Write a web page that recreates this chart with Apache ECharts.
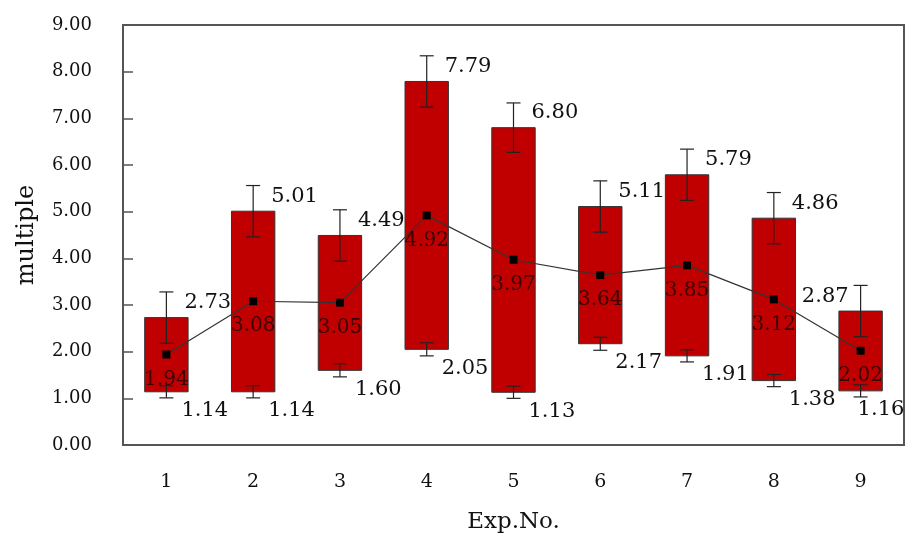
<!DOCTYPE html>
<html>
<head>
<meta charset="utf-8">
<script src="https://cdn.jsdelivr.net/npm/echarts@6/dist/echarts.min.js"></script>
<style>
  html, body { margin: 0; padding: 0; background: #fff; }
  #chart { width: 907px; height: 539px; }
</style>
</head>
<body>
<div id="chart"></div>
<script>
var chart = echarts.init(document.getElementById('chart'));

var expNo = ['1', '2', '3', '4', '5', '6', '7', '8', '9'];
var lowVals = [1.14, 1.14, 1.60, 2.05, 1.13, 2.17, 1.91, 1.38, 1.16];
var highVals = [2.73, 5.01, 4.49, 7.79, 6.80, 5.11, 5.79, 4.86, 2.87];
var meanVals = [1.94, 3.08, 3.05, 4.92, 3.97, 3.64, 3.85, 3.12, 2.02];
var errHigh = [0.55, 0.55, 0.55, 0.55, 0.53, 0.55, 0.55, 0.55, 0.55];
var errLow = [0.13, 0.13, 0.14, 0.14, 0.13, 0.14, 0.13, 0.13, 0.13];

var font = '"DejaVu Serif", "Liberation Serif", serif';

var boxData = expNo.map(function (c, i) {
    return [i, lowVals[i], highVals[i], errHigh[i], errLow[i]];
});

function whisker(x, y1, y2, cap) {
    var st = { stroke: '#222', lineWidth: 1.2 };
    return [
        { type: 'line', shape: { x1: x, y1: y1, x2: x, y2: y2 }, style: st },
        { type: 'line', shape: { x1: x - cap, y1: y1, x2: x + cap, y2: y1 }, style: st },
        { type: 'line', shape: { x1: x - cap, y1: y2, x2: x + cap, y2: y2 }, style: st }
    ];
}

function renderBox(params, api) {
    var i = api.value(0);
    var lo = api.value(1), hi = api.value(2);
    var eu = api.value(3), el = api.value(4);
    var pLo = api.coord([i, lo]);
    var pHi = api.coord([i, hi]);
    var w = api.size([1, 0])[0] * 0.5;
    var x = pLo[0];
    var cap = 7;
    var last = i === expNo.length - 1;
    var children = [{
        type: 'rect',
        shape: { x: x - w / 2, y: pHi[1], width: w, height: pLo[1] - pHi[1] },
        style: { fill: '#c00000', stroke: '#333', lineWidth: 1 }
    }];
    var t1 = api.coord([i, hi + eu])[1], t2 = api.coord([i, hi - eu])[1];
    var b1 = api.coord([i, lo + el])[1], b2 = api.coord([i, lo - el])[1];
    children = children.concat(whisker(x, t1, t2, cap), whisker(x, b1, b2, cap));
    // last box has its top label on the left, like the original
    children.push({
        type: 'text', x: last ? x - 12 : x + 18, y: pHi[1] - 15,
        style: { text: hi.toFixed(2), font: '21px ' + font, fill: '#111', align: last ? 'right' : 'left', verticalAlign: 'middle' }
    });
    children.push({
        type: 'text', x: last ? x - 3 : x + 15, y: pLo[1] + 19,
        style: { text: lo.toFixed(2), font: '21px ' + font, fill: '#111', align: 'left', verticalAlign: 'middle' }
    });
    return { type: 'group', children: children };
}

var option = {
    animation: false,
    grid: {
        left: 123, right: 3, top: 25, bottom: 94,
        show: true, borderColor: '#555', borderWidth: 2
    },
    xAxis: {
        type: 'category',
        data: expNo,
        name: 'Exp.No.',
        nameLocation: 'middle',
        nameGap: 66,
        nameTextStyle: { fontFamily: font, fontSize: 23, color: '#111' },
        axisLine: { onZero: false, lineStyle: { color: '#555', width: 1.5 } },
        axisTick: { show: false },
        axisLabel: { fontFamily: font, fontSize: 19, color: '#111', margin: 28 }
    },
    yAxis: {
        type: 'value',
        min: 0, max: 9, interval: 1,
        name: 'multiple',
        nameLocation: 'middle',
        nameGap: 84,
        nameTextStyle: { fontFamily: font, fontSize: 24, color: '#111' },
        axisLine: { show: true, onZero: false, lineStyle: { color: '#555', width: 1.5 } },
        axisTick: { show: true, inside: true, length: 10, lineStyle: { color: '#555', width: 1.5 } },
        splitLine: { show: false },
        axisLabel: {
            fontFamily: font, fontSize: 18, color: '#111', margin: 31,
            formatter: function (v) { return v.toFixed(2); }
        }
    },
    series: [
        {
            type: 'custom',
            renderItem: renderBox,
            encode: { x: 0, y: [1, 2] },
            data: boxData,
            z: 2
        },
        {
            type: 'line',
            data: meanVals,
            symbol: 'rect',
            symbolSize: 8,
            itemStyle: { color: '#000' },
            lineStyle: { color: '#333', width: 1.2 },
            label: {
                show: true, position: 'bottom', distance: 11,
                fontFamily: font, fontSize: 20, color: '#3c0000',
                formatter: function (p) { return p.value.toFixed(2); }
            },
            z: 3
        }
    ]
};

chart.setOption(option);
</script>
</body>
</html>
